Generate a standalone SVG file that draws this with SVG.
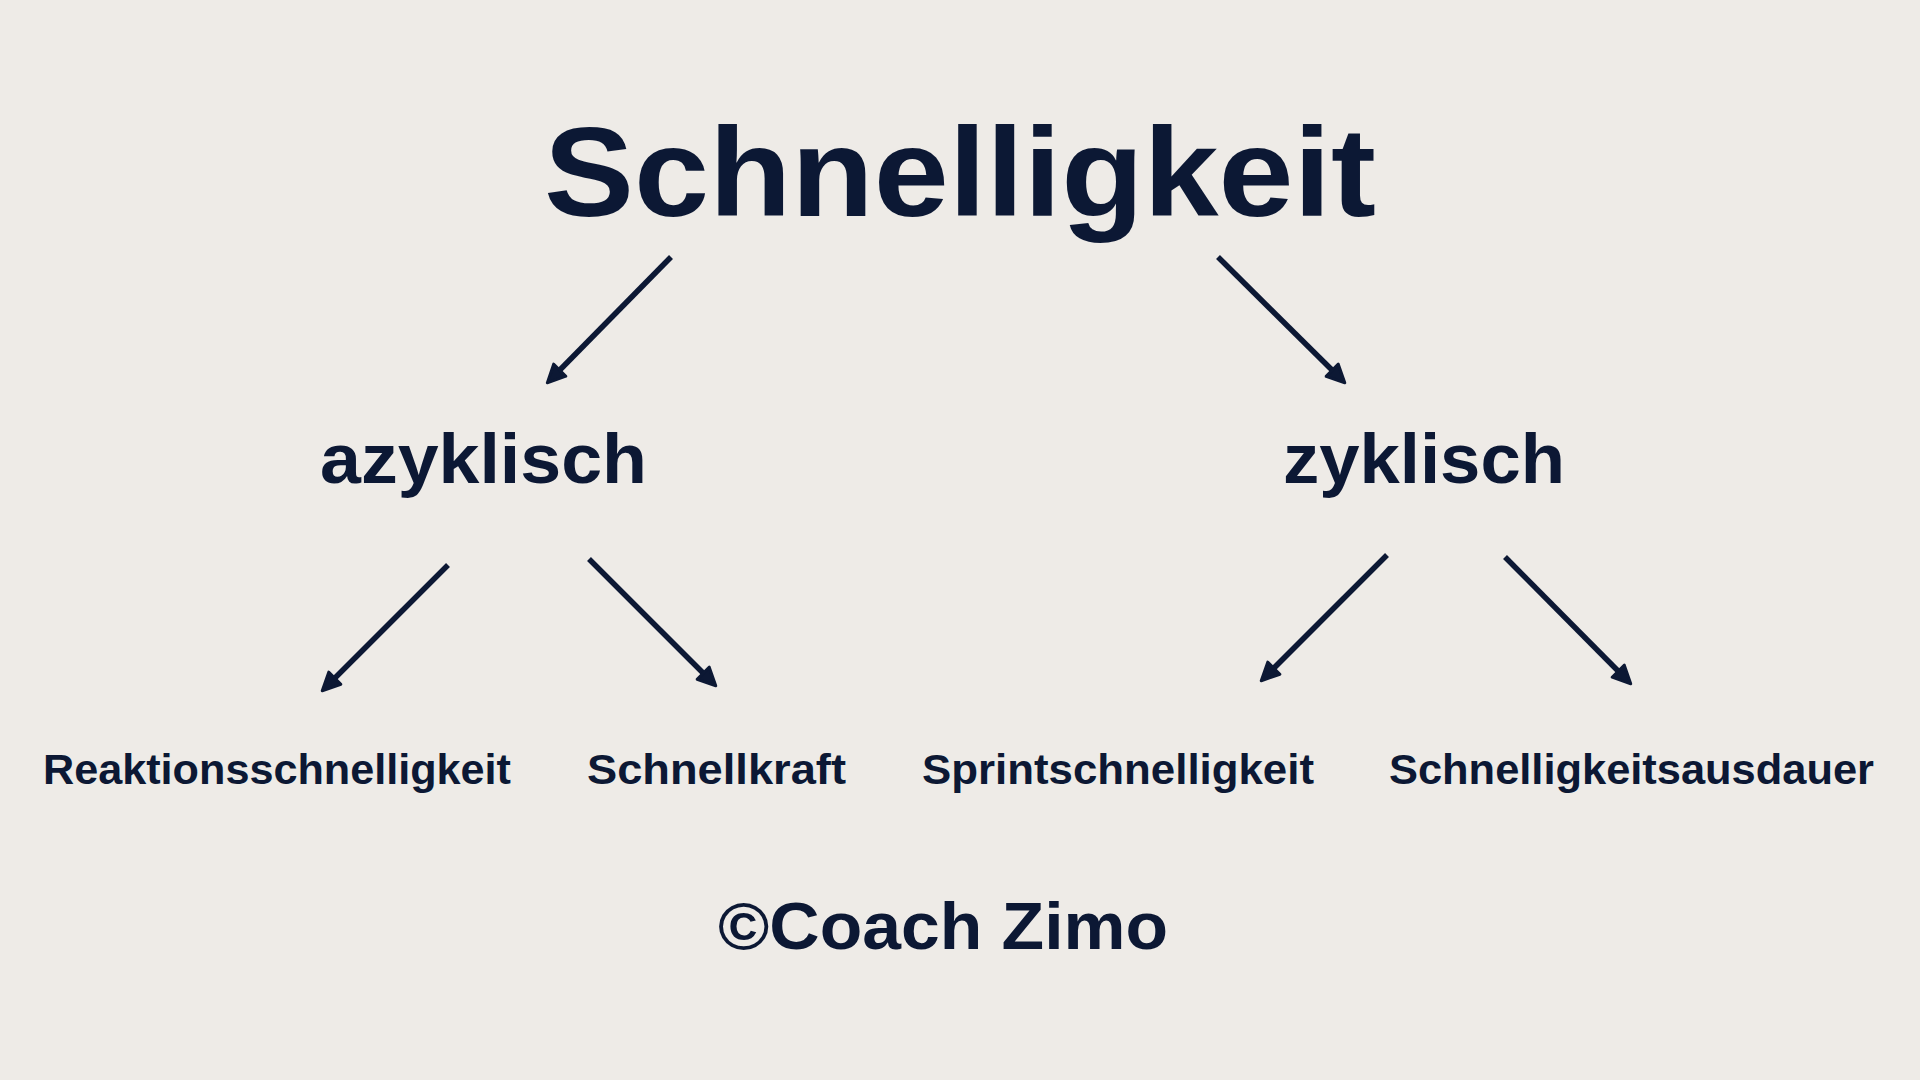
<svg xmlns="http://www.w3.org/2000/svg" width="1920" height="1080" viewBox="0 0 1920 1080">
  <style>
    .t { font-family: "Liberation Sans", Arial, sans-serif; font-weight: bold; fill: #0C1834; }
    .c { stroke: #0C1834; stroke-width: 5.5; fill: none; marker-end: url(#ah); }
  </style>
  <defs>
    <marker id="ah" viewBox="0 0 20 20" refX="10" refY="10" markerWidth="23" markerHeight="23" markerUnits="userSpaceOnUse" orient="auto">
      <path d="M2.5,2.5 L18,10 L2.5,17.5 Z" fill="#0C1834" stroke="#0C1834" stroke-width="2.5" stroke-linejoin="round"/>
    </marker>
  </defs>
  <rect width="1920" height="1080" fill="#EEEBE7"/>

  <g id="node-schnelligkeit">
    <text class="t" x="544" y="216" font-size="127" textLength="832" lengthAdjust="spacingAndGlyphs">Schnelligkeit</text>
  </g>
  <g id="node-azyklisch">
    <text class="t" x="320" y="483" font-size="70" textLength="327" lengthAdjust="spacingAndGlyphs">azyklisch</text>
  </g>
  <g id="node-zyklisch">
    <text class="t" x="1283" y="483" font-size="70" textLength="282" lengthAdjust="spacingAndGlyphs">zyklisch</text>
  </g>
  <g id="node-reaktionsschnelligkeit">
    <text class="t" x="43" y="784" font-size="42" textLength="468" lengthAdjust="spacingAndGlyphs">Reaktionsschnelligkeit</text>
  </g>
  <g id="node-schnellkraft">
    <text class="t" x="587" y="784" font-size="42" textLength="259" lengthAdjust="spacingAndGlyphs">Schnellkraft</text>
  </g>
  <g id="node-sprintschnelligkeit">
    <text class="t" x="922" y="784" font-size="42" textLength="392" lengthAdjust="spacingAndGlyphs">Sprintschnelligkeit</text>
  </g>
  <g id="node-schnelligkeitsausdauer">
    <text class="t" x="1389" y="784" font-size="42" textLength="485" lengthAdjust="spacingAndGlyphs">Schnelligkeitsausdauer</text>
  </g>
  <g id="copyright">
    <text class="t" x="718" y="949" font-size="66" textLength="450" lengthAdjust="spacingAndGlyphs">©Coach Zimo</text>
  </g>

  <g id="connectors">
    <path class="c" d="M671,257 L553.7,376.3"/>
    <path class="c" d="M1218,257 L1338.3,376.3"/>
    <path class="c" d="M448,565 L328.7,684.3"/>
    <path class="c" d="M589,559 L709.3,679.3"/>
    <path class="c" d="M1387,555 L1267.7,674.3"/>
    <path class="c" d="M1505,557 L1624.3,677.3"/>
  </g>
</svg>
